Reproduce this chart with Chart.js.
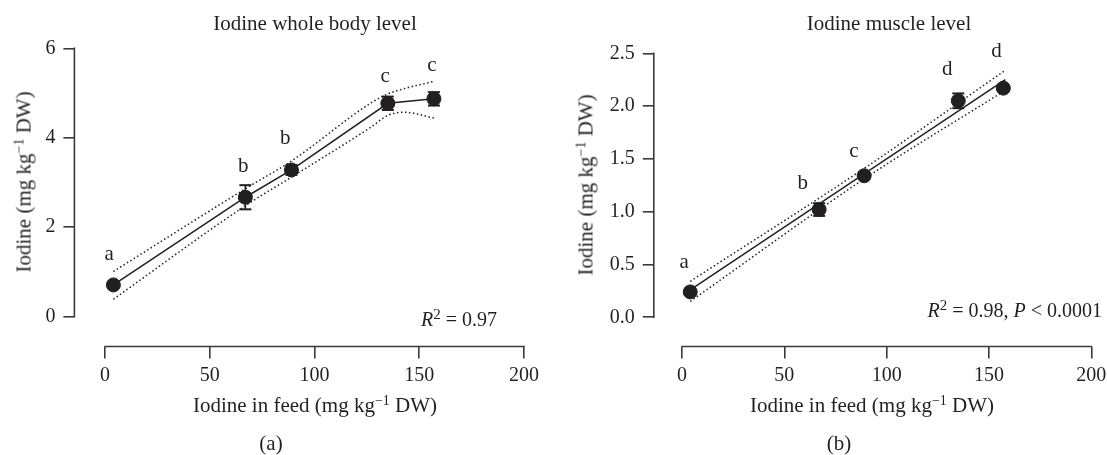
<!DOCTYPE html>
<html lang="en">
<head>
    <meta charset="UTF-8">
    <title>Iodine whole body and muscle level</title>
    <script src="https://cdn.jsdelivr.net/npm/chart.js"></script>
    <style>
        html, body {
            margin: 0;
            padding: 0;
            background: #ffffff;
            overflow: hidden;
        }
        body {
            width: 1107px;
            height: 455px;
            position: relative;
            font-family: 'Liberation Serif', serif;
            color: #231f20;
        }
        canvas { position: absolute; top: 0; }
        .lbl {
            position: absolute;
            font-size: 21px;
            line-height: 1;
            white-space: nowrap;
            transform: translate(-50%, -50%);
        }
        .lbl sup { font-size: 14px; vertical-align: 7px; line-height: 0; }
        .ytitle { transform: translate(-50%, -50%) rotate(-90deg); }
        .stat {
            position: absolute;
            font-size: 20px;
            line-height: 1;
            white-space: nowrap;
            transform: translateY(-50%);
        }
        .stat sup { font-size: 15px; vertical-align: 7px; line-height: 0; }
    </style>
</head>
<body>
    <canvas id="bodyChart" width="553" height="455" style="left:0px"></canvas>
    <canvas id="muscleChart" width="570" height="455" style="left:553px"></canvas>

    <div class="lbl" style="left:315px; top:23px">Iodine whole body level</div>
    <div class="lbl" style="left:889px; top:23px">Iodine muscle level</div>
    <div class="lbl ytitle" style="left:24px; top:182px">Iodine (mg kg<sup>−1</sup> DW)</div>
    <div class="lbl ytitle" style="left:586px; top:185px">Iodine (mg kg<sup>−1</sup> DW)</div>
    <div class="lbl" style="left:315px; top:405px">Iodine in feed (mg kg<sup>−1</sup> DW)</div>
    <div class="lbl" style="left:872px; top:405px">Iodine in feed (mg kg<sup>−1</sup> DW)</div>
    <div class="lbl" style="left:271px; top:443px">(a)</div>
    <div class="lbl" style="left:839px; top:443px">(b)</div>
    <div class="stat" style="right:610px; top:319px"><i>R</i><sup>2</sup> = 0.97</div>
    <div class="stat" style="right:5px; top:310px"><i>R</i><sup>2</sup> = 0.98, <i>P</i> &lt; 0.0001</div>

    <script>
        // feed levels (mg/kg DW)
        const doses = [4, 67, 89, 135, 157];
        const xTicks = [0, 50, 100, 150, 200];

        // (a) whole body
        const bodyMean = [0.71, 2.67, 3.28, 4.77, 4.87];
        const bodyErr = [0.04, 0.27, 0.11, 0.15, 0.15];
        const bodyBandX = [4, 67, 89, 127, 135, 143, 157];
        const bodyBandUpper = [1.01, 2.86, 3.48, 4.78, 4.98, 5.10, 5.26];
        const bodyBandLower = [0.39, 2.48, 3.12, 4.24, 4.50, 4.57, 4.44];
        const bodyLetters = ['a', 'b', 'b', 'c', 'c'];
        const bodyLetterX = [2, 66, 86, 133.7, 156];
        const bodyLetterY = [1.40, 3.35, 3.99, 5.37, 5.61];
        const bodyYTicks = [0, 2, 4, 6];

        // (b) muscle
        const muscleMean = [0.24, 1.02, 1.34, 2.05, 2.17];
        const muscleErr = [0.02, 0.06, 0.03, 0.07, 0.03];
        const muscleFitX = [4, 158];
        const muscleFitY = [0.26, 2.25];
        const muscleBandX = [4, 89, 158];
        const muscleBandUpper = [0.34, 1.41, 2.34];
        const muscleBandLower = [0.15, 1.31, 2.15];
        const muscleLetters = ['a', 'b', 'c', 'd', 'd'];
        const muscleLetterX = [1, 59, 84, 129.6, 153.7];
        const muscleLetterY = [0.52, 1.27, 1.57, 2.35, 2.52];
        const muscleYTicks = [0, 0.5, 1.0, 1.5, 2.0, 2.5];

        const ink = '#231f20';
        const axisColor = '#3a3a3a';
        const serif = "'Liberation Serif', serif";

        const toXY = (xs, ys) => xs.map((x, i) => ({ x: x, y: ys[i] }));

        // error bars as short vertical segments separated by gaps
        const errorData = (means, errs) => {
            const out = [];
            doses.forEach((d, i) => {
                out.push({ x: d, y: means[i] - errs[i] });
                out.push({ x: d, y: means[i] + errs[i] });
                out.push({ x: d, y: null });
            });
            return out;
        };

        // detached axis lines + significance letters
        const axisLines = {
            id: 'axisLines',
            afterDraw(chart, args, opts) {
                const { ctx, chartArea } = chart;
                const x = chart.scales.x, y = chart.scales.y;
                ctx.save();
                ctx.strokeStyle = axisColor;
                ctx.lineWidth = 1.6;
                ctx.lineCap = 'square';
                ctx.beginPath();
                ctx.moveTo(chartArea.left, y.getPixelForValue(opts.yTicks[0]));
                ctx.lineTo(chartArea.left, y.getPixelForValue(opts.yTicks[opts.yTicks.length - 1]));
                ctx.moveTo(x.getPixelForValue(xTicks[0]), chartArea.bottom);
                ctx.lineTo(x.getPixelForValue(xTicks[xTicks.length - 1]), chartArea.bottom);
                ctx.stroke();

                ctx.fillStyle = ink;
                ctx.font = '21px ' + serif;
                ctx.textAlign = 'center';
                ctx.textBaseline = 'middle';
                opts.letters.forEach((t, i) => {
                    ctx.fillText(t, x.getPixelForValue(opts.lx[i]), y.getPixelForValue(opts.ly[i]));
                });
                ctx.restore();
            }
        };

        function makeChart(id, cfg) {
            const datasets = [
                {
                    // means
                    data: toXY(doses, cfg.means),
                    pointRadius: 7,
                    pointBackgroundColor: ink,
                    pointBorderColor: ink,
                    showLine: false,
                    clip: false
                },
                {
                    // error bars with caps
                    data: errorData(cfg.means, cfg.errs),
                    showLine: true,
                    spanGaps: false,
                    borderColor: ink,
                    borderWidth: 1.6,
                    pointStyle: 'line',
                    pointRadius: 6,
                    pointBorderColor: ink,
                    pointBorderWidth: 2,
                    clip: false
                },
                {
                    // fitted line
                    data: toXY(cfg.fitX, cfg.fitY),
                    showLine: true,
                    borderColor: ink,
                    borderWidth: 1.5,
                    pointRadius: 0
                },
                {
                    // upper confidence band
                    data: toXY(cfg.bandX, cfg.bandUpper),
                    showLine: true,
                    borderColor: ink,
                    borderWidth: 1.5,
                    borderDash: [1.5, 2.5],
                    cubicInterpolationMode: 'monotone',
                    pointRadius: 0,
                    clip: false
                },
                {
                    // lower confidence band
                    data: toXY(cfg.bandX, cfg.bandLower),
                    showLine: true,
                    borderColor: ink,
                    borderWidth: 1.5,
                    borderDash: [1.5, 2.5],
                    cubicInterpolationMode: 'monotone',
                    pointRadius: 0,
                    clip: false
                }
            ];

            return new Chart(document.getElementById(id), {
                type: 'scatter',
                data: { datasets: datasets },
                plugins: [axisLines],
                options: {
                    responsive: false,
                    animation: false,
                    events: [],
                    layout: { padding: cfg.padding },
                    plugins: {
                        legend: { display: false },
                        tooltip: { enabled: false },
                        axisLines: {
                            yTicks: cfg.yTicks,
                            letters: cfg.letters,
                            lx: cfg.letterX,
                            ly: cfg.letterY
                        }
                    },
                    scales: {
                        x: {
                            type: 'linear',
                            min: cfg.xMin,
                            max: 200,
                            afterFit: (s) => { s.height = cfg.xHeight; },
                            afterBuildTicks: (s) => { s.ticks = xTicks.map(v => ({ value: v })); },
                            border: { display: false },
                            grid: {
                                display: true,
                                drawOnChartArea: false,
                                drawTicks: true,
                                tickLength: 12,
                                color: axisColor,
                                lineWidth: 1.6
                            },
                            ticks: {
                                color: ink,
                                padding: 5,
                                maxRotation: 0,
                                font: { family: serif, size: 20 }
                            }
                        },
                        y: {
                            type: 'linear',
                            min: cfg.yMin,
                            max: cfg.yTicks[cfg.yTicks.length - 1],
                            afterFit: (s) => { s.width = cfg.yWidth; },
                            afterBuildTicks: (s) => { s.ticks = cfg.yTicks.map(v => ({ value: v })); },
                            border: { display: false },
                            grid: {
                                display: true,
                                drawOnChartArea: false,
                                drawTicks: true,
                                tickLength: 11,
                                color: axisColor,
                                lineWidth: 1.6
                            },
                            ticks: {
                                color: ink,
                                padding: 8,
                                font: { family: serif, size: 20 },
                                callback: cfg.fmt
                            }
                        }
                    }
                }
            });
        }

        makeChart('bodyChart', {
            means: bodyMean,
            errs: bodyErr,
            fitX: doses,
            fitY: bodyMean,
            bandX: bodyBandX,
            bandUpper: bodyBandUpper,
            bandLower: bodyBandLower,
            letters: bodyLetters,
            letterX: bodyLetterX,
            letterY: bodyLetterY,
            yTicks: bodyYTicks,
            xMin: -14.6,
            yMin: -0.667,
            padding: { left: 0, right: 29, top: 48.3, bottom: 0 },
            yWidth: 74.4,
            xHeight: 108.5,
            fmt: (v) => String(v)
        });

        makeChart('muscleChart', {
            means: muscleMean,
            errs: muscleErr,
            fitX: muscleFitX,
            fitY: muscleFitY,
            bandX: muscleBandX,
            bandUpper: muscleBandUpper,
            bandLower: muscleBandLower,
            letters: muscleLetters,
            letterX: muscleLetterX,
            letterY: muscleLetterY,
            yTicks: muscleYTicks,
            xMin: -13.8,
            yMin: -0.277,
            padding: { left: 0, right: 31.7, top: 53.3, bottom: 0 },
            yWidth: 100.8,
            xHeight: 108.5,
            fmt: (v) => v.toFixed(1)
        });
    </script>
</body>
</html>
